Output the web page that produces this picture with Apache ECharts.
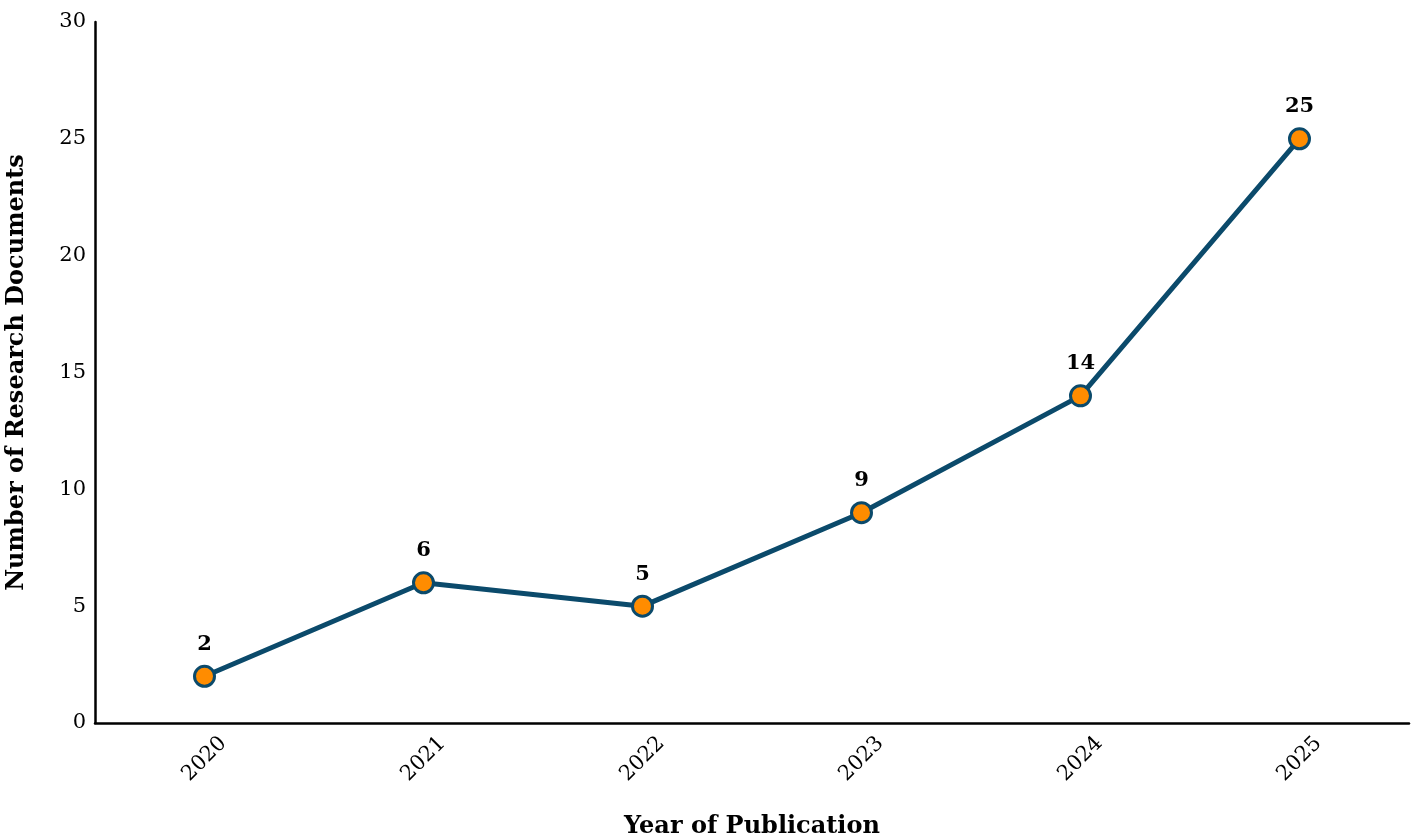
<!DOCTYPE html>
<html>
<head>
<meta charset="utf-8">
<script src="https://cdn.jsdelivr.net/npm/echarts@6/dist/echarts.min.js"></script>
<style>
  html, body { margin: 0; padding: 0; background: #fff; }
  #chart { width: 1417px; height: 840px; }
</style>
</head>
<body>
<div id="chart"></div>
<script>
  var years = ['2020', '2021', '2022', '2023', '2024', '2025'];
  var docCounts = [2, 6, 5, 9, 14, 25];
  var yTicks = { min: 0, max: 30, interval: 5 };

  var myChart = echarts.init(document.getElementById('chart'));
  var serif = 'DejaVu Serif';

  var option = {
    backgroundColor: '#fff',
    animation: false,
    grid: { left: 95, right: 8, top: 22, bottom: 117, outerBoundsMode: 'none', containLabel: false },
    xAxis: {
      type: 'category',
      data: years,
      boundaryGap: true,
      name: 'Year of Publication',
      nameLocation: 'middle',
      nameGap: 92,
      nameTextStyle: { fontFamily: serif, fontWeight: 'bold', fontSize: 24, color: '#000' },
      axisLine: { lineStyle: { color: '#000', width: 2.5 } },
      axisTick: { show: false },
      axisLabel: {
        rotate: 45, align: 'center', verticalAlign: 'middle',
        fontFamily: serif, fontSize: 21, color: '#000', margin: 36
      }
    },
    yAxis: {
      type: 'value',
      min: yTicks.min,
      max: yTicks.max,
      interval: yTicks.interval,
      name: 'Number of Research Documents',
      nameLocation: 'middle',
      nameGap: 66,
      nameTextStyle: { fontFamily: serif, fontWeight: 'bold', fontSize: 24, color: '#000' },
      axisLine: { show: true, lineStyle: { color: '#000', width: 2.5 } },
      axisTick: { show: false },
      splitLine: { show: false },
      axisLabel: { fontFamily: serif, fontSize: 21, color: '#000', margin: 9 }
    },
    series: [{
      type: 'line',
      data: docCounts,
      symbol: 'circle',
      symbolSize: 20,
      lineStyle: { color: '#0b4a6b', width: 5 },
      itemStyle: { color: '#ff8c00', borderColor: '#0b4a6b', borderWidth: 3 },
      label: {
        show: true,
        position: 'top',
        distance: 10,
        fontFamily: serif,
        fontWeight: 'bold',
        fontSize: 21,
        color: '#000'
      }
    }]
  };

  myChart.setOption(option);
</script>
</body>
</html>
